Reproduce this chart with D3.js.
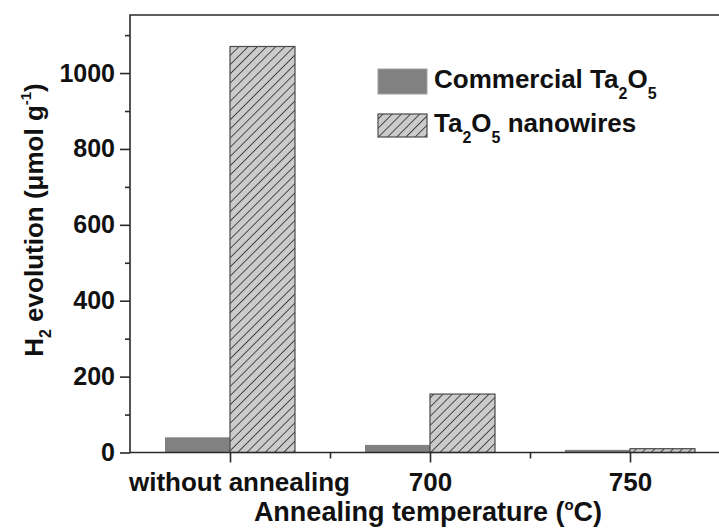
<!DOCTYPE html>
<html>
<head>
<meta charset="utf-8">
<script src="https://cdn.jsdelivr.net/npm/d3@7/dist/d3.min.js"></script>
<style>
  html, body { margin: 0; padding: 0; background: #fff; }
  svg { display: block; font-family: "Liberation Sans", Arial, sans-serif; font-weight: bold; }
</style>
</head>
<body>
<svg id="chart" width="719" height="531"></svg>
<script>
// ---- data ----
const categories = ["without annealing", "700", "750"];
const commercial = [40, 20, 7];
const nanowires = [1070, 154, 10];
const yTicks = [0, 200, 400, 600, 800, 1000];
const yMinorTicks = [100, 300, 500, 700, 900, 1100];

// ---- layout ----
const plotL = 130, plotT = 15, plotB = 452.5, plotR = 719;
const svg = d3.select("#chart");

const y = d3.scaleLinear().domain([0, 1153]).range([plotB, plotT]);
const x = d3.scaleLinear().domain([-0.5, 2.445]).range([plotL, plotR]);
const barW = 0.325;

// hatch pattern
const defs = svg.append("defs");
const pat = defs.append("pattern")
  .attr("id", "hatch").attr("patternUnits", "userSpaceOnUse")
  .attr("width", 6.5).attr("height", 6.5)
  .attr("patternTransform", "rotate(45)");
pat.append("rect").attr("width", 6.5).attr("height", 6.5).attr("fill", "#cbcbcb");
pat.append("line").attr("x1", 0).attr("y1", 0).attr("x2", 0).attr("y2", 6.5)
  .attr("stroke", "#3a3a3a").attr("stroke-width", 1.8);

// bars
const g = svg.append("g");
g.selectAll("rect.com").data(commercial).join("rect")
  .attr("class", "com")
  .attr("x", (d, i) => x(i - barW))
  .attr("width", (d, i) => x(i) - x(i - barW))
  .attr("y", d => y(d))
  .attr("height", d => y(0) - y(d))
  .attr("fill", "#818181");
g.selectAll("rect.nw").data(nanowires).join("rect")
  .attr("class", "nw")
  .attr("x", (d, i) => x(i))
  .attr("width", (d, i) => x(i + barW) - x(i))
  .attr("y", d => y(d))
  .attr("height", d => y(0) - y(d))
  .attr("fill", "url(#hatch)")
  .attr("stroke", "#4a4a4a").attr("stroke-width", 1.2);

// frame
svg.append("path")
  .attr("d", `M${plotR},${plotT}H${plotL}V${plotB}H${plotR}`)
  .attr("fill", "none").attr("stroke", "#2a2a2a").attr("stroke-width", 1.6);

// y axis
const yAxis = d3.axisLeft(y).tickValues(yTicks).tickSize(10).tickPadding(5).tickFormat(d3.format("d"));
const ya = svg.append("g").attr("transform", `translate(${plotL},0)`).call(yAxis);
ya.select(".domain").remove();
ya.selectAll("line").attr("stroke", "#2a2a2a").attr("stroke-width", 1.6);
ya.selectAll("text").attr("font-size", 25).attr("font-weight", "bold")
  .attr("font-family", "Liberation Sans, Arial, sans-serif").attr("fill", "#111");
const yaMin = svg.append("g").attr("transform", `translate(${plotL},0)`)
  .call(d3.axisLeft(y).tickValues(yMinorTicks).tickSize(5).tickFormat(""));
yaMin.select(".domain").remove();
yaMin.selectAll("line").attr("stroke", "#2a2a2a").attr("stroke-width", 1.6);

// x axis
const xAxis = d3.axisBottom(x).tickValues(d3.range(categories.length)).tickSize(10).tickPadding(10)
  .tickFormat(i => categories[i]);
const xa = svg.append("g").attr("transform", `translate(0,${plotB})`).call(xAxis);
xa.select(".domain").remove();
xa.selectAll("line").attr("stroke", "#2a2a2a").attr("stroke-width", 1.6);
xa.selectAll("text").attr("font-size", 26).attr("font-weight", "bold")
  .attr("font-family", "Liberation Sans, Arial, sans-serif").attr("fill", "#111")
  .attr("dx", (d, i) => i === 0 ? 9 : 0);
const xaMin = svg.append("g").attr("transform", `translate(0,${plotB})`)
  .call(d3.axisBottom(x).tickValues([0.5, 1.5]).tickSize(6).tickFormat(""));
xaMin.select(".domain").remove();
xaMin.selectAll("line").attr("stroke", "#2a2a2a").attr("stroke-width", 1.6);

// axis titles
const xt = svg.append("text").attr("x", 428).attr("y", 521)
  .attr("text-anchor", "middle").attr("font-size", 27).attr("fill", "#111");
xt.append("tspan").text("Annealing temperature (");
xt.append("tspan").attr("font-size", 15).attr("dy", -11).text("o");
xt.append("tspan").attr("dy", 11).text("C)");

const yt = svg.append("text").attr("transform", "translate(43,220) rotate(-90)")
  .attr("text-anchor", "middle").attr("font-size", 26).attr("fill", "#111");
yt.append("tspan").text("H");
yt.append("tspan").attr("font-size", 16).attr("dy", 8).text("2");
yt.append("tspan").attr("dy", -8).text(" evolution (\u03bcmol g");
yt.append("tspan").attr("font-size", 15).attr("dy", -12).text("-1");
yt.append("tspan").attr("dy", 12).text(")");

// legend
const lg = svg.append("g");
lg.append("rect").attr("x", 378).attr("y", 69).attr("width", 49).attr("height", 25)
  .attr("fill", "#818181").attr("stroke", "#a0a0a0").attr("stroke-width", 1);
lg.append("rect").attr("x", 378).attr("y", 114).attr("width", 49).attr("height", 23)
  .attr("fill", "url(#hatch)").attr("stroke", "#4a4a4a").attr("stroke-width", 1.2);
const l1 = lg.append("text").attr("x", 434).attr("y", 88).attr("font-size", 26).attr("fill", "#111");
l1.append("tspan").text("Commercial Ta");
l1.append("tspan").attr("font-size", 16).attr("dy", 11).text("2");
l1.append("tspan").attr("dy", -11).text("O");
l1.append("tspan").attr("font-size", 16).attr("dy", 11).text("5");
const l2 = lg.append("text").attr("x", 434).attr("y", 132).attr("font-size", 26).attr("fill", "#111");
l2.append("tspan").text("Ta");
l2.append("tspan").attr("font-size", 16).attr("dy", 11).text("2");
l2.append("tspan").attr("dy", -11).text("O");
l2.append("tspan").attr("font-size", 16).attr("dy", 11).text("5");
l2.append("tspan").attr("dy", -11).text(" nanowires");
</script>
</body>
</html>
